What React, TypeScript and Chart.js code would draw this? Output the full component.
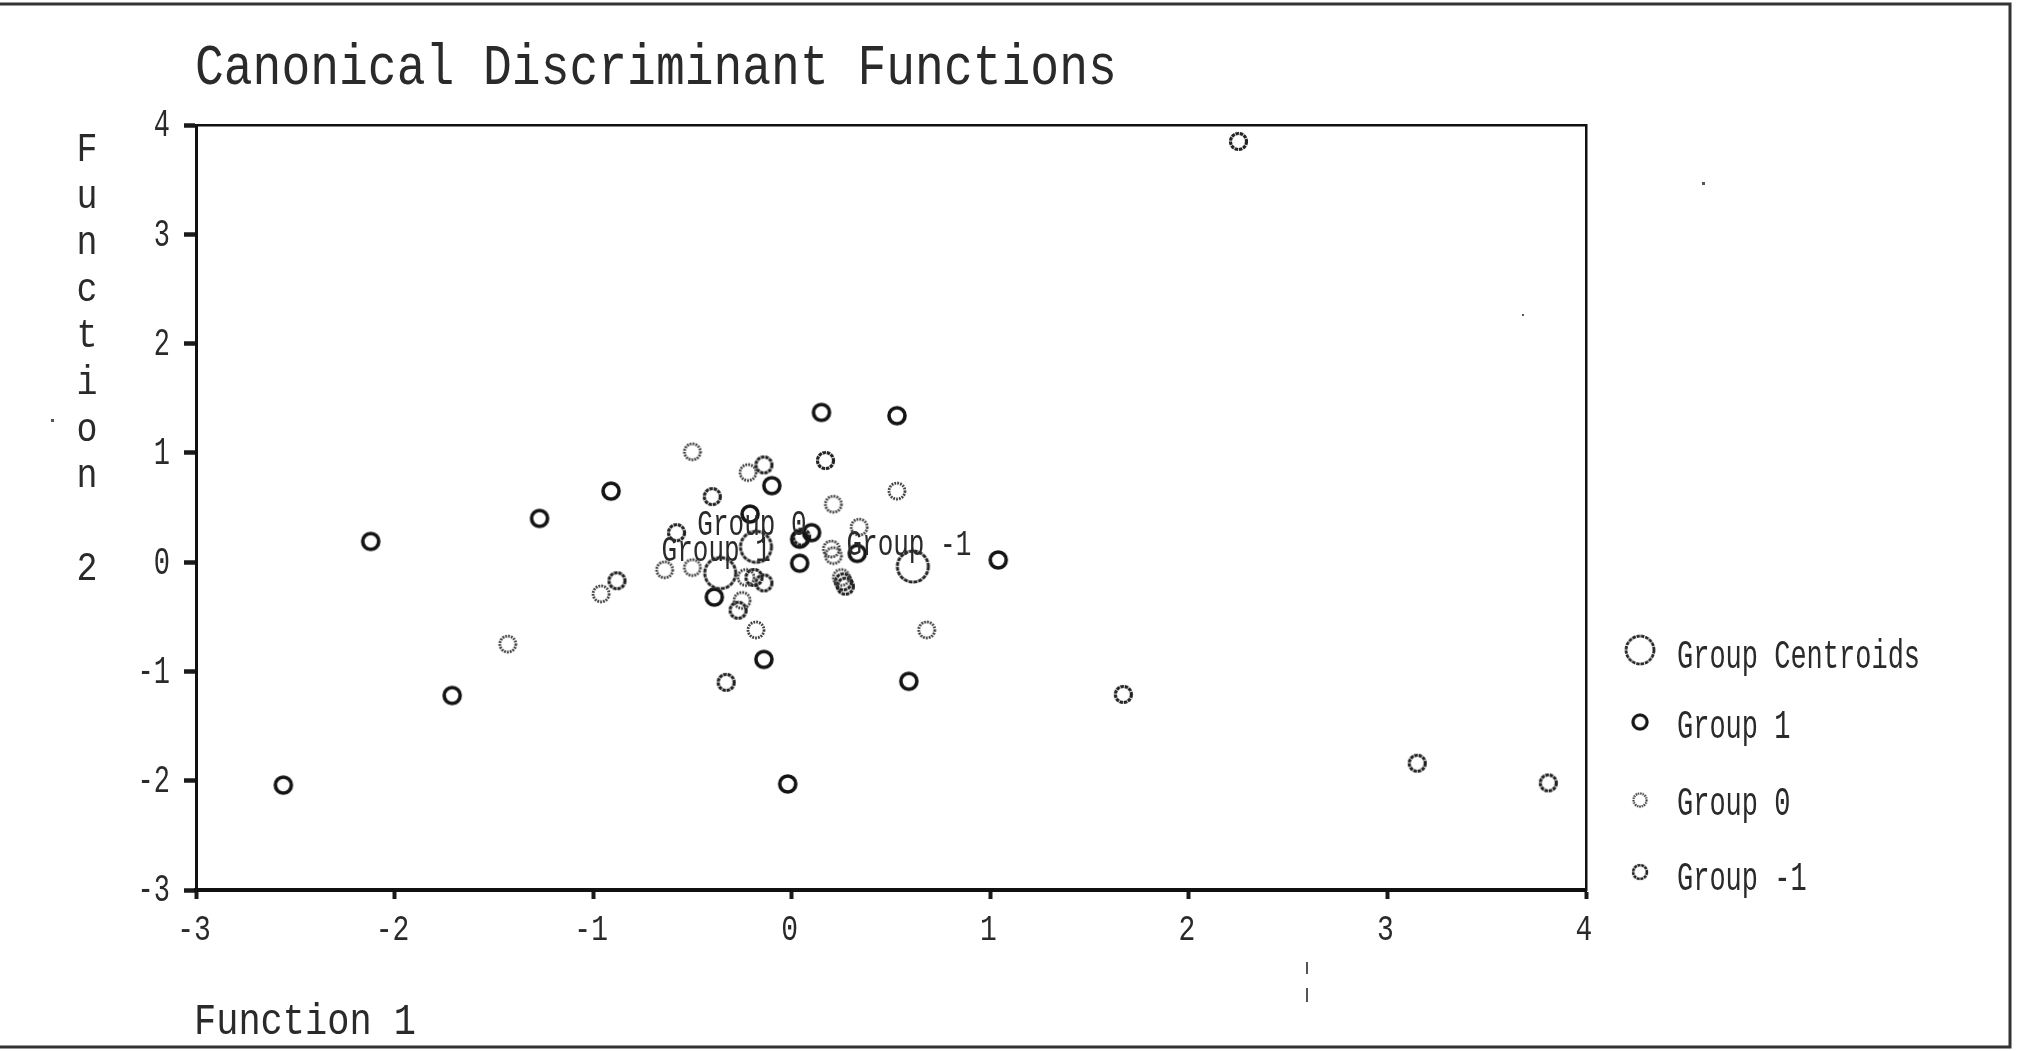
import React, { useEffect, useRef } from 'react';
import { Chart, registerables } from 'chart.js';

Chart.register(...registerables);

const TITLE = 'Canonical Discriminant Functions';
const X_TITLE = 'Function 1';
const Y_TITLE = 'Function 2';

const X_TICKS = [-3, -2, -1, 0, 1, 2, 3, 4];
const X_TICK_LABELS = ['-3', '-2', '-1', '0', '1', '2', '3', '4'];
const Y_TICKS = [-3, -2, -1, 0, 1, 2, 3, 4];
const Y_TICK_LABELS = ['-3', '-2', '-1', '0', '1', '2', '3', '4'];

const SERIES_LABELS = ['Group Centroids', 'Group 1', 'Group 0', 'Group -1'];

const CENTROID_NAMES = ['Group 1', 'Group 0', 'Group -1'];
const CENTROID_X = [-0.36, -0.18, 0.61];
const CENTROID_Y = [-0.1, 0.14, -0.04];

const G1_X = [-2.56, -2.12, -1.71, -1.27, -0.91, 0.15, 0.53, -0.1, -0.21, 0.1, 0.04, -0.39, -0.14, 0.33, 1.04, 0.59, -0.02, 0.04];
const G1_Y = [-2.04, 0.19, -1.22, 0.4, 0.65, 1.37, 1.34, 0.7, 0.44, 0.27, 0.21, -0.32, -0.89, 0.08, 0.02, -1.09, -2.03, -0.01];

const G0_X = [-1.43, -0.96, -0.64, -0.5, -0.5, -0.22, 0.21, 0.53, 0.34, 0.2, 0.21, -0.25, -0.18, 0.68, -0.23, 0.25];
const G0_Y = [-0.75, -0.29, -0.07, -0.05, 1.01, 0.82, 0.53, 0.65, 0.32, 0.12, 0.06, -0.35, -0.62, -0.62, -0.14, -0.14];

const GM1_X = [-0.88, -0.58, -0.4, -0.14, 0.17, -0.27, -0.33, -0.14, -0.19, 0.05, 0.26, 0.27, 1.67, 2.25, 3.15, 3.81];
const GM1_Y = [-0.17, 0.27, 0.6, 0.89, 0.93, -0.44, -1.1, -0.19, -0.14, 0.23, -0.18, -0.22, -1.21, 3.85, -1.84, -2.02];

const FONT = "'Liberation Mono', 'DejaVu Sans Mono', monospace";
const TEXT_COLOR = '#2a2a2a';

function makeMarker(r: number, lw: number, color: string, dash: number[]) {
  const c = document.createElement('canvas');
  const size = Math.ceil(2 * (r + lw) + 2);
  c.width = size;
  c.height = size;
  const ctx = c.getContext('2d')!;
  ctx.strokeStyle = color;
  ctx.lineWidth = lw;
  ctx.setLineDash(dash);
  ctx.beginPath();
  ctx.arc(size / 2, size / 2, r, 0, Math.PI * 2);
  ctx.stroke();
  return c;
}

function toPoints(xs: number[], ys: number[]) {
  return xs.map((x, i) => ({ x, y: ys[i] }));
}

function drawText(
  ctx: CanvasRenderingContext2D,
  text: string,
  x: number,
  y: number,
  size: number,
  sy: number,
  align: CanvasTextAlign,
  baseline: CanvasTextBaseline = 'alphabetic'
) {
  ctx.save();
  ctx.font = `${size}px ${FONT}`;
  ctx.fillStyle = TEXT_COLOR;
  ctx.textAlign = align;
  ctx.textBaseline = baseline;
  ctx.translate(x, y);
  ctx.scale(1, sy);
  ctx.fillText(text, 0, 0);
  ctx.restore();
}

export default function App() {
  const ref = useRef<HTMLCanvasElement>(null);

  useEffect(() => {
    const canvas = ref.current;
    if (!canvas) return;

    const mCentroid = makeMarker(15.5, 3, '#262626', [4, 0.9]);
    const mG1 = makeMarker(8, 3.6, '#141414', []);
    const mG0 = makeMarker(8, 2.8, '#3c3c3c', [1.8, 1.1]);
    const mGm1 = makeMarker(8, 3.2, '#222222', [3.5, 0.8]);
    const markers = [mCentroid, mG1, mG0, mGm1];

    const decorPlugin = {
      id: 'decor',
      beforeDraw(chart: any) {
        const ctx = chart.ctx as CanvasRenderingContext2D;
        ctx.save();
        ctx.fillStyle = '#ffffff';
        ctx.fillRect(0, 0, chart.width, chart.height);
        ctx.strokeStyle = '#333';
        ctx.lineWidth = 3;
        ctx.beginPath();
        ctx.moveTo(0, 4);
        ctx.lineTo(2010, 4);
        ctx.lineTo(2010, 1047);
        ctx.lineTo(0, 1047);
        ctx.stroke();
        // faint specks from the scan
        ctx.fillStyle = '#555';
        ctx.fillRect(1702, 182, 3, 3);
        ctx.fillRect(1522, 314, 2, 2);
        ctx.fillRect(51, 419, 3, 3);
        ctx.fillRect(1306, 962, 2, 12);
        ctx.fillRect(1306, 988, 2, 14);
        ctx.restore();
      },
      afterDraw(chart: any) {
        const ctx = chart.ctx as CanvasRenderingContext2D;
        const xs = chart.scales.x;
        const ys = chart.scales.y;

        // title
        drawText(ctx, TITLE, 195, 84, 48, 1.18, 'left');

        // x axis title
        drawText(ctx, X_TITLE, 194, 1034, 37, 1.18, 'left');

        // y axis title (stacked letters)
        Y_TITLE.split('').forEach((ch, i) => {
          if (ch === ' ') return;
          drawText(ctx, ch, 87, 161 + i * 46.6, 35, 1.15, 'center');
        });

        // tick labels
        X_TICKS.forEach((v, i) => {
          drawText(ctx, X_TICK_LABELS[i], xs.getPixelForValue(v) - 2, 930, 28, 1.35, 'center', 'middle');
        });
        Y_TICKS.forEach((v, i) => {
          drawText(ctx, Y_TICK_LABELS[i], 170, ys.getPixelForValue(v) + 1, 27, 1.45, 'right', 'middle');
        });

        // centroid labels
        CENTROID_NAMES.forEach((name, i) => {
          const px = xs.getPixelForValue(CENTROID_X[i]);
          const py = ys.getPixelForValue(CENTROID_Y[i]);
          drawText(ctx, name, px - 4, py - 12, 26, 1.45, 'center');
        });

        // legend
        const legendSymX = 1640;
        const legendTextX = 1677;
        const baselines = [668, 738, 815, 890];
        const symY = [650, 722, 800, 872];
        const scales = [0.9, 0.88, 0.82, 0.86];
        chart.data.datasets.forEach((ds: any, i: number) => {
          const m = markers[i];
          const w = m.width * scales[i];
          const h = m.height * scales[i];
          ctx.drawImage(m, legendSymX - w / 2, symY[i] - h / 2, w, h);
          drawText(ctx, ds.label, legendTextX, baselines[i], 27, 1.5, 'left');
        });
      },
    };

    const axisCommon = {
      type: 'linear' as const,
      min: -3,
      max: 4,
    };

    const chart = new Chart(canvas, {
      type: 'scatter',
      data: {
        datasets: [
          {
            label: SERIES_LABELS[0],
            data: toPoints(CENTROID_X, CENTROID_Y),
            pointStyle: mCentroid as any,
            pointRadius: 15,
          },
          {
            label: SERIES_LABELS[1],
            data: toPoints(G1_X, G1_Y),
            pointStyle: mG1 as any,
            pointRadius: 8,
          },
          {
            label: SERIES_LABELS[2],
            data: toPoints(G0_X, G0_Y),
            pointStyle: mG0 as any,
            pointRadius: 8,
          },
          {
            label: SERIES_LABELS[3],
            data: toPoints(GM1_X, GM1_Y),
            pointStyle: mGm1 as any,
            pointRadius: 8,
          },
        ],
      },
      options: {
        responsive: false,
        animation: false,
        devicePixelRatio: 1,
        events: [],
        layout: { padding: { left: 184, right: 437, top: 125, bottom: 152 } },
        plugins: {
          legend: { display: false },
          tooltip: { enabled: false },
          title: { display: false },
        },
        scales: {
          x: {
            ...axisCommon,
            position: 'bottom',
            afterBuildTicks: (s: any) => {
              s.ticks = X_TICKS.map((v) => ({ value: v }));
            },
            ticks: { display: false },
            grid: {
              drawOnChartArea: false,
              drawTicks: true,
              tickLength: 9,
              tickWidth: 4,
              tickColor: '#1a1a1a',
            },
            border: { display: true, color: '#111', width: 4 },
          },
          y: {
            ...axisCommon,
            position: 'left',
            afterBuildTicks: (s: any) => {
              s.ticks = Y_TICKS.map((v) => ({ value: v }));
            },
            ticks: { display: false },
            grid: {
              drawOnChartArea: false,
              drawTicks: true,
              tickLength: 12,
              tickWidth: 4.5,
              tickColor: '#1a1a1a',
            },
            border: { display: true, color: '#111', width: 3 },
          },
          x2: {
            ...axisCommon,
            position: 'top',
            ticks: { display: false },
            grid: { drawOnChartArea: false, drawTicks: false },
            border: { display: true, color: '#111', width: 2.5 },
          },
          y2: {
            ...axisCommon,
            position: 'right',
            ticks: { display: false },
            grid: { drawOnChartArea: false, drawTicks: false },
            border: { display: true, color: '#111', width: 2.5 },
          },
        },
      } as any,
      plugins: [decorPlugin],
    });

    return () => chart.destroy();
  }, []);

  return (
    <div style={{ position: 'absolute', left: 0, top: 0, width: 2023, height: 1051, background: '#fff' }}>
      <canvas ref={ref} width={2023} height={1051} style={{ display: 'block' }} />
    </div>
  );
}
